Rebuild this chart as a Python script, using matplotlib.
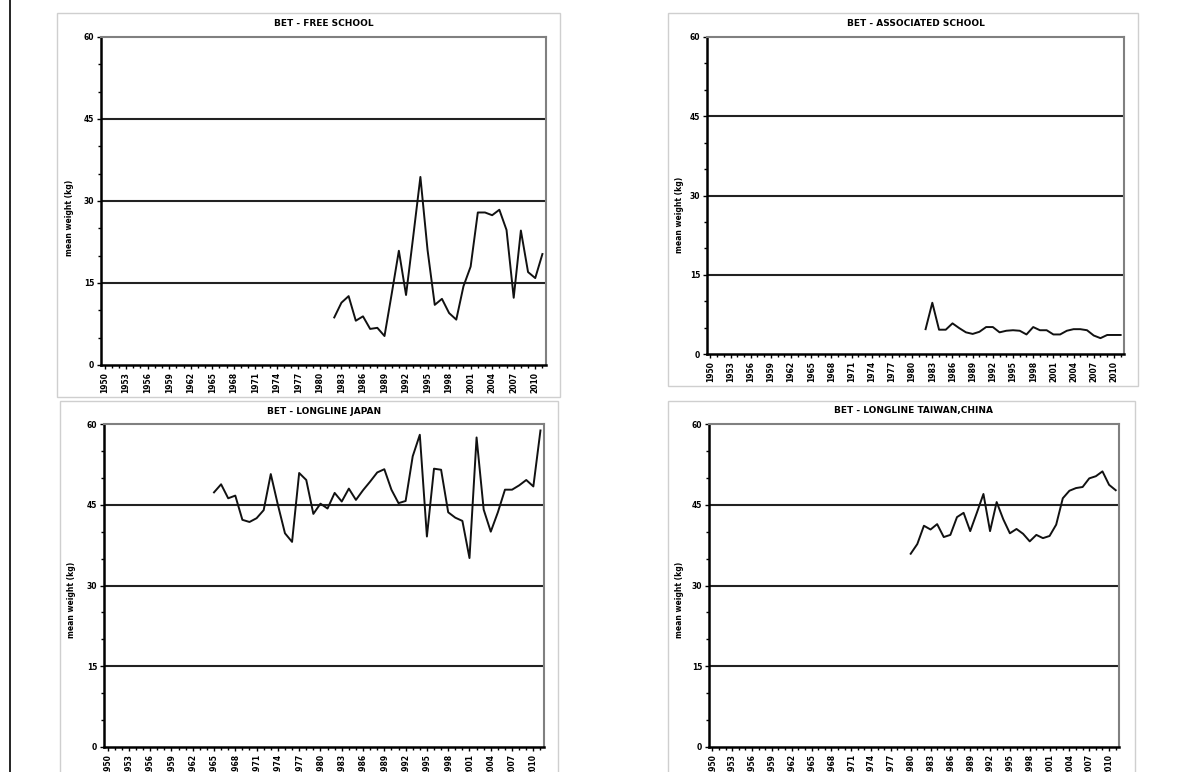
import matplotlib
matplotlib.use("Agg")
import matplotlib.pyplot as plt
from matplotlib.patches import Rectangle
from matplotlib.lines import Line2D
from matplotlib.ticker import MultipleLocator, FixedLocator

W, H = 1180, 772

# data (mean weight in kg per year)
free_years = list(range(1982, 2012))
free_vals = [8.7, 11.4, 12.6, 8.1, 8.9, 6.6, 6.8, 5.3, 13.0, 20.9,
             12.8, 23.5, 34.4, 21.0, 11.0, 12.1, 9.5, 8.3, 14.4, 18.0,
             27.9, 27.9, 27.4, 28.4, 24.7, 12.3, 24.6, 17.0, 15.9, 20.3]

assoc_years = list(range(1982, 2012))
assoc_vals = [4.7, 9.7, 4.6, 4.6, 5.8, 4.9, 4.1, 3.8, 4.2, 5.1,
              5.1, 4.1, 4.4, 4.5, 4.4, 3.7, 5.1, 4.5, 4.5, 3.7,
              3.7, 4.4, 4.7, 4.7, 4.5, 3.5, 3.0, 3.6, 3.6, 3.6]

japan_years = list(range(1965, 2012))
japan_vals = [47.3, 48.8, 46.2, 46.7, 42.2, 41.8, 42.5, 44.0, 50.7, 45.0,
              39.7, 38.1, 50.9, 49.6, 43.3, 45.2, 44.3, 47.2, 45.6, 48.0,
              45.9, 47.7, 49.3, 51.0, 51.6, 47.8, 45.3, 45.7, 54.0, 58.0,
              39.1, 51.7, 51.5, 43.6, 42.6, 42.0, 35.1, 57.5, 44.1, 40.0,
              43.6, 47.8, 47.8, 48.6, 49.6, 48.4, 58.8]

taiwan_years = list(range(1980, 2012))
taiwan_vals = [35.9, 37.7, 41.1, 40.4, 41.4, 39.0, 39.4, 42.7, 43.5, 40.1,
               43.5, 47.0, 40.1, 45.5, 42.3, 39.7, 40.5, 39.6, 38.2, 39.4,
               38.8, 39.2, 41.3, 46.2, 47.6, 48.1, 48.3, 49.9, 50.3, 51.2,
               48.7, 47.7]

titles = ["BET - FREE SCHOOL", "BET - ASSOCIATED SCHOOL",
          "BET - LONGLINE JAPAN", "BET - LONGLINE TAIWAN,CHINA"]
tick_years = list(range(1950, 2011, 3))
y_label = "mean weight (kg)"


def fbox(x0, y0, x1, y1):
    # pixel box (top-left origin) -> figure fraction rect
    return [x0 / W, 1 - y1 / H, (x1 - x0) / W, (y1 - y0) / H]


def draw(fig, years, vals, title, plot_px, frame_px, ylab_px):
    fig.patches.append(Rectangle((frame_px[0] / W, 1 - frame_px[3] / H),
                                 (frame_px[2] - frame_px[0]) / W,
                                 (frame_px[3] - frame_px[1]) / H,
                                 transform=fig.transFigure, fill=False,
                                 edgecolor="#cfcfcf", lw=1.0))
    ax = fig.add_axes(fbox(*plot_px))
    ax.plot(years, vals, color="#111111", lw=1.4)
    ax.set_xlim(1949.5, 2011.5)
    ax.set_ylim(0, 60)
    for g in (15, 30, 45):
        ax.axhline(g, color="#222222", lw=1.5, zorder=0)
    ax.yaxis.set_major_locator(MultipleLocator(15))
    ax.yaxis.set_minor_locator(MultipleLocator(5))
    ax.xaxis.set_major_locator(FixedLocator(tick_years))
    ax.xaxis.set_minor_locator(MultipleLocator(1))
    ax.set_xticklabels([str(y) for y in tick_years], rotation=90,
                       fontsize=5.5, fontweight="bold")
    ax.tick_params(axis="y", labelsize=5.5, length=3, width=1, pad=2)
    ax.tick_params(axis="x", length=3, width=1, pad=2)
    ax.tick_params(which="minor", length=2.5, width=1)
    for lab in ax.get_yticklabels():
        lab.set_fontweight("bold")
    ax.spines["left"].set_linewidth(1.8)
    ax.spines["bottom"].set_linewidth(1.8)
    ax.spines["top"].set_color("#808080")
    ax.spines["right"].set_color("#808080")
    ax.spines["top"].set_linewidth(1.5)
    ax.spines["right"].set_linewidth(1.5)
    cx = (plot_px[0] + plot_px[2]) / 2
    fig.text(cx / W, 1 - (plot_px[1] - 13) / H, title, ha="center",
             va="center", fontsize=6.5, fontweight="bold")
    fig.text(ylab_px[0] / W, 1 - ylab_px[1] / H, y_label, rotation=90,
             ha="center", va="center", fontsize=5.5, fontweight="bold")
    return ax


fig = plt.figure(figsize=(W / 100, H / 100), dpi=100)
fig.patch.set_facecolor("white")
fig.lines.append(Line2D([10 / W, 10 / W], [0, 1], transform=fig.transFigure,
                        color="black", lw=1.2))

draw(fig, free_years, free_vals, titles[0],
     (101, 37, 546, 365), (57, 13, 560, 397), (70, 218))
draw(fig, assoc_years, assoc_vals, titles[1],
     (707, 37, 1124, 354), (668, 13, 1138, 386), (679, 215))
draw(fig, japan_years, japan_vals, titles[2],
     (104, 424, 544, 747), (60, 401, 558, 780), (72, 600))
draw(fig, taiwan_years, taiwan_vals, titles[3],
     (709, 424, 1119, 747), (668, 401, 1135, 780), (680, 600))

fig.savefig("out.png", dpi=100)
